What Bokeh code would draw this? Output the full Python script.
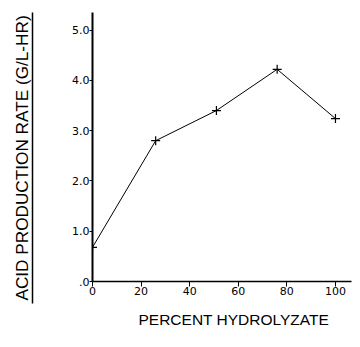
import math
from bokeh.plotting import figure
from bokeh.layouts import row
from bokeh.models import Range1d, FixedTicker, Title
from bokeh.embed import file_html
from bokeh.resources import INLINE

# values
percent = [0, 26, 51, 76, 100]
rate = [0.68, 2.8, 3.4, 4.22, 3.24]

x_ticks = [0, 20, 40, 60, 80, 100]
x_tick_labels = ["0", "20", "40", "60", "80", "100"]
y_ticks = [0, 1, 2, 3, 4, 5]
y_tick_labels = [".0", "1.0", "2.0", "3.0", "4.0", "5.0"]

x_title = "PERCENT HYDROLYZATE"
y_title = "ACID PRODUCTION RATE (G/L-HR)"

TITLE_FONT = "Liberation Sans"
TICK_FONT = "DejaVu Sans"
H = 339
LEFT_W = 40

# narrow left strip: its axis line is the underline of the y title
side = figure(width=LEFT_W, height=H, output_backend="svg", toolbar_location=None,
              x_range=Range1d(0, 1), y_range=Range1d(0, 1), frame_align=False,
              min_border_left=32, min_border_right=0, min_border_top=12, min_border_bottom=36)
side.outline_line_color = None
side.grid.visible = False
side.xaxis.visible = False
side.yaxis.ticker = FixedTicker(ticks=[])
side.yaxis.major_tick_out = 0
side.yaxis.major_tick_in = 0
side.yaxis.minor_tick_line_color = None
side.yaxis.axis_line_color = "black"
side.yaxis.axis_line_width = 1.5
side.yaxis.axis_label = y_title
side.yaxis.axis_label_standoff = 1
side.yaxis.axis_label_text_font = TITLE_FONT
side.yaxis.axis_label_text_font_size = "17.2px"
side.yaxis.axis_label_text_font_style = "normal"
side.yaxis.axis_label_text_color = "black"

p = figure(width=352 - LEFT_W, height=H, output_backend="svg", toolbar_location=None,
           x_range=Range1d(0, 106.6), y_range=Range1d(0, 5.35), frame_align=False,
           min_border_left=92 - LEFT_W, min_border_right=1, min_border_top=12, min_border_bottom=58)
p.outline_line_color = None
p.grid.visible = False

p.xaxis.ticker = FixedTicker(ticks=x_ticks)
p.yaxis.ticker = FixedTicker(ticks=y_ticks)
p.xaxis.major_label_overrides = dict(zip(x_ticks, x_tick_labels))
p.yaxis.major_label_overrides = dict(zip(y_ticks, y_tick_labels))
p.axis.minor_tick_line_color = None
p.axis.major_tick_line_color = "black"
p.axis.axis_line_color = "black"
p.axis.major_label_text_font = TICK_FONT
p.axis.major_label_text_font_size = "11px"
p.axis.major_label_text_color = "black"
p.xaxis.major_label_text_align = "left"
p.yaxis.major_label_text_baseline = "alphabetic"
p.xaxis.major_tick_out = 5
p.xaxis.major_tick_in = 0
p.yaxis.major_tick_out = 3
p.yaxis.major_tick_in = 0
p.xaxis.major_label_standoff = 0
p.yaxis.major_label_standoff = 0
p.yaxis.axis_line_width = 2
p.xaxis.axis_line_width = 1.5

p.add_layout(Title(text=x_title, align="left", offset=46, standoff=22, text_line_height=1.0,
                   text_font=TITLE_FONT, text_font_size="15.5px", text_font_style="normal",
                   text_color="black"), "below")

p.line(percent, rate, line_color="black", line_width=1)
p.scatter(percent, rate, marker="cross", size=9, line_color="black", line_width=1.2)

layout = row(side, p, spacing=0)
open("out.html", "w").write(file_html(layout, INLINE))
